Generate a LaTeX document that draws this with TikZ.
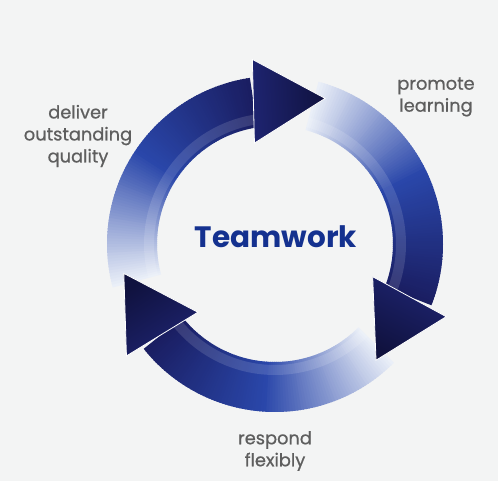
\documentclass[tikz,border=0pt]{standalone}
\usepackage{fontspec}
\setmainfont{Poppins}
\newfontfamily\labelfont{Poppins}[FakeBold=0.7]
\usetikzlibrary{positioning}

\definecolor{bgcol}{HTML}{F3F4F4}
\definecolor{ringlight}{HTML}{EAEFF8}
\definecolor{ringmid}{HTML}{2A47AA}
\definecolor{ringdark}{HTML}{1A1E62}
\definecolor{headback}{HTML}{1E2470}
\definecolor{headdark}{HTML}{10123F}
\definecolor{titleblue}{HTML}{14318F}
\definecolor{labelgray}{HTML}{5E5E5E}
\pgfdeclarehorizontalshading{headshade}{100bp}{color(0bp)=(headback); color(25bp)=(headback); color(75bp)=(headdark); color(100bp)=(headdark)}

\begin{document}
\begin{tikzpicture}[x=1pt,y=1pt,
		cyclelabel/.style={text=labelgray,align=center,font=\labelfont\fontsize{17.8}{22}\selectfont},
		arrowhead/.style={shading=headshade,draw=white,line width=.8pt}]
	\useasboundingbox[fill=bgcol] (0,0) rectangle (498,481);
	\begin{scope}[shift={(275,237)}]
		% ring segments, light tail to dark head
		\foreach \b in {0,-120,-240}{
			\foreach \i in {0,...,95}{
				\pgfmathsetmacro\a{\b+195-\i}
				\pgfmathtruncatemacro\pa{min(100,\i*100/48)}
				\pgfmathtruncatemacro\pb{max(0,(\i-48)*100/47)}
				\colorlet{segtmp}{ringmid!\pa!ringlight}
				\fill[ringdark!\pb!segtmp] (\a:118pt) arc[start angle=\a,end angle=\a-1.4,radius=118pt]
					-- (\a-1.4:168pt) arc[start angle=\a-1.4,end angle=\a,radius=168pt] -- cycle;
			}
			\fill[white,opacity=.13] (\b+195:121pt) arc[start angle=\b+195,end angle=\b+97,radius=121pt]
				-- (\b+97:131pt) arc[start angle=\b+97,end angle=\b+195,radius=131pt] -- cycle;
		}
		\foreach \b in {0,-120,-240}
			\shadedraw[arrowhead,shading angle=\b+3] (\b+97:186pt) -- (\b+71:154pt) -- (\b+101.5:103pt) -- cycle;
	\end{scope}

	\node[text=titleblue,font=\bfseries\fontsize{29.5}{34}\selectfont,anchor=base] (teamwork) at (276,233) {Teamwork};
	\node[cyclelabel] (deliver) at (78,345) {deliver\\outstanding\\quality};
	\node[cyclelabel] (promote) at (436,384) {promote\\learning};
	\node[cyclelabel] (respond) at (275,30) {respond\\flexibly};
\end{tikzpicture}
\end{document}
